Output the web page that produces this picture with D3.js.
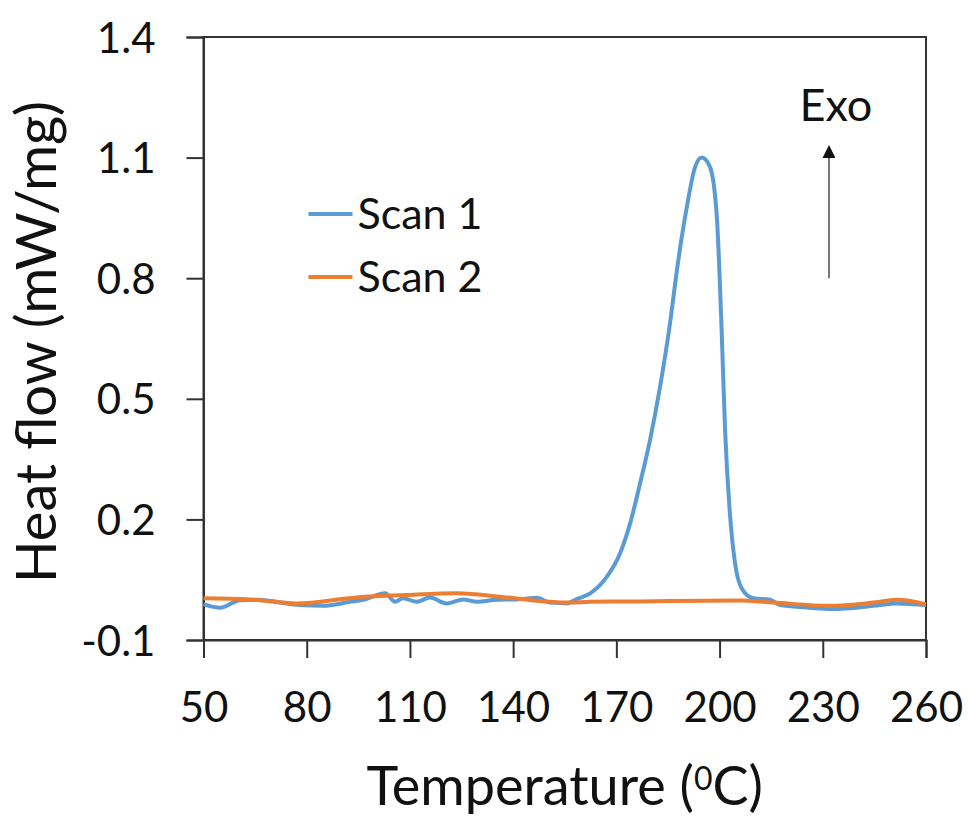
<!DOCTYPE html>
<html>
<head>
<meta charset="utf-8">
<script src="https://cdn.jsdelivr.net/npm/d3@7"></script>
<style>
  body { margin: 0; background: #fff; }
  text { font-family: Lato, "Open Sans", sans-serif; fill: #111; }
</style>
</head>
<body>
<div id="chart"></div>
<script>
// Temperature (C) and heat flow (mW/mg)
var scan1_T = [50, 54.8, 60.6, 65.5, 78, 84.7, 92.6, 96.4, 102.8, 105.7, 108, 112, 115.8, 120.7, 125.5,
  129.4, 135.2, 141, 146.9, 150.7, 155.6, 158.5, 162.4, 167.2, 171.1, 174, 176.9, 179.8, 182.7, 185.6,
  187.6, 190.5, 192.9, 194.8, 197.2, 199.2, 200.6, 201.6, 203, 204.5, 206.4, 209.8, 214.7, 217.6,
  225.4, 233.1, 244.7, 251.5, 260];
var scan1_Q = [-0.011, -0.02, -0.001, 0.0, -0.013, -0.015, -0.005, 0.0, 0.016, -0.005, 0.004, -0.005, 0.006, -0.009, 0.001,
  -0.005, 0.0, 0.001, 0.005, -0.007, -0.009, 0.002, 0.016, 0.057, 0.116, 0.19, 0.29, 0.398, 0.53, 0.688,
  0.82, 0.978, 1.077, 1.10, 1.077, 0.953, 0.671, 0.422, 0.215, 0.091, 0.029, 0.004, 0.0, -0.013,
  -0.019, -0.023, -0.015, -0.009, -0.013];

var scan2_T = [50, 63.5, 77, 94.5, 109, 123.6, 138, 150.7, 155.6, 162.4, 176.9, 206, 215.6, 232, 244.6, 251.5, 260];
var scan2_Q = [0.004, 0.001, -0.009, 0.006, 0.012, 0.016, 0.006, -0.005, -0.007, -0.005, -0.004, -0.002, -0.007, -0.015, -0.007, 0.0, -0.011];

var xTicks = [50, 80, 110, 140, 170, 200, 230, 260];
var yTicks = [-0.1, 0.2, 0.5, 0.8, 1.1, 1.4];
var seriesNames = ["Scan 1", "Scan 2"];
var seriesColors = ["#5B9BD5", "#ED7D31"];

var W = 968, H = 817;
var margin = { top: 37, right: 42, bottom: 177, left: 203.5 };
var width = W - margin.left - margin.right;
var height = H - margin.top - margin.bottom;

var svg = d3.select("#chart").append("svg")
  .attr("width", W)
  .attr("height", H);

var g = svg.append("g").attr("transform", "translate(" + margin.left + "," + margin.top + ")");

var x = d3.scaleLinear().domain([50, 260]).range([0, width]);
var y = d3.scaleLinear().domain([-0.1, 1.4]).range([height, 0]);

// frame (top and right)
g.append("rect")
  .attr("x", 0).attr("y", 0)
  .attr("width", width).attr("height", height)
  .attr("fill", "none")
  .attr("stroke", "#333")
  .attr("stroke-width", 2);

var xAxis = g.append("g")
  .attr("transform", "translate(0," + height + ")")
  .call(d3.axisBottom(x).tickValues(xTicks).tickSize(18).tickPadding(34));

var yAxis = g.append("g")
  .call(d3.axisLeft(y).tickValues(yTicks).tickSize(17).tickPadding(31)
    .tickFormat(function (d) { return d.toFixed(1); }));

[xAxis, yAxis].forEach(function (a) {
  a.selectAll("path, line").attr("stroke", "#333").attr("stroke-width", 2);
  a.selectAll("text").style("font-size", "42px").attr("fill", "#111");
});
yAxis.selectAll("text").attr("dy", "0.36em");

// axis titles
var xt = svg.append("text")
  .attr("x", margin.left + width / 2)
  .attr("y", 805)
  .attr("text-anchor", "middle")
  .style("font-size", "54px");
xt.append("tspan").text("Temperature (");
xt.append("tspan").attr("dy", -15).style("font-size", "32px").text("0");
xt.append("tspan").attr("dy", 15).text("C)");

svg.append("text")
  .attr("transform", "translate(56,342) rotate(-90)")
  .attr("text-anchor", "middle")
  .style("font-size", "56px")
  .text("Heat flow (mW/mg)");

// lines
var line = d3.line()
  .x(function (d) { return x(d[0]); })
  .y(function (d) { return y(d[1]); })
  .curve(d3.curveMonotoneX);

var series = [d3.zip(scan1_T, scan1_Q), d3.zip(scan2_T, scan2_Q)];

g.selectAll(".series")
  .data(series)
  .enter()
  .append("path")
  .attr("class", "series")
  .attr("d", line)
  .attr("fill", "none")
  .attr("stroke", function (d, i) { return seriesColors[i]; })
  .attr("stroke-width", 4)
  .attr("stroke-linejoin", "round");

// legend
var legend = g.append("g").attr("transform", "translate(105,177)");
seriesNames.forEach(function (name, i) {
  var row = legend.append("g").attr("transform", "translate(0," + (i * 63) + ")");
  row.append("line")
    .attr("x1", 0).attr("x2", 44)
    .attr("stroke", seriesColors[i])
    .attr("stroke-width", 4);
  row.append("text")
    .attr("x", 49)
    .attr("dy", "0.36em")
    .style("font-size", "43px")
    .text(name);
});

// Exo arrow
svg.append("defs").append("marker")
  .attr("id", "head")
  .attr("viewBox", "0 0 10 10")
  .attr("refX", 5).attr("refY", 5)
  .attr("markerWidth", 6.5).attr("markerHeight", 6.5)
  .attr("orient", "auto")
  .append("path")
  .attr("d", "M0,0 L10,5 L0,10 z")
  .attr("fill", "#111");

g.append("line")
  .attr("x1", x(231.8)).attr("x2", x(231.8))
  .attr("y1", y(0.80)).attr("y2", y(1.115))
  .attr("stroke", "#777")
  .attr("stroke-width", 2)
  .attr("marker-end", "url(#head)");

g.append("text")
  .attr("x", x(233.8))
  .attr("y", y(1.19))
  .attr("text-anchor", "middle")
  .style("font-size", "45px")
  .text("Exo");
</script>
</body>
</html>
